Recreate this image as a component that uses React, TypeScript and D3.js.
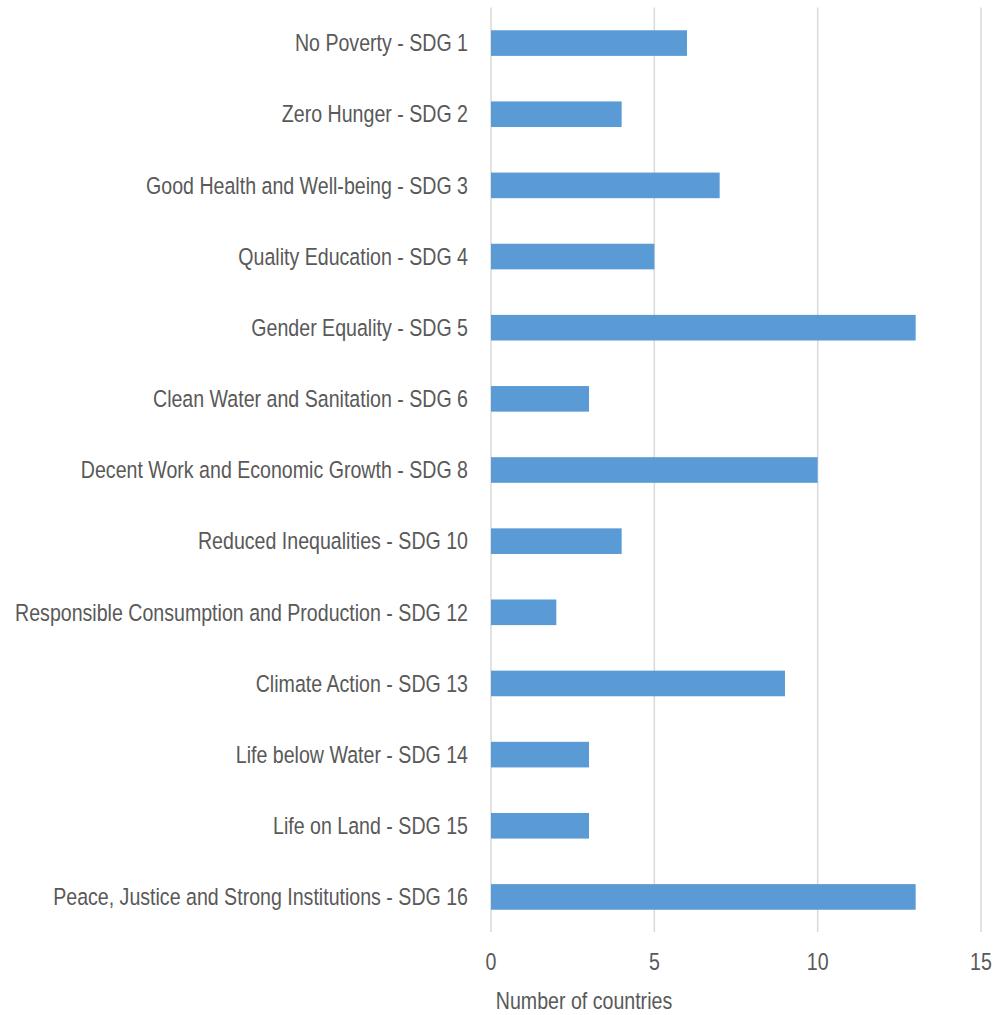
import React from "react";
import * as d3 from "d3";

const categories = [
  "No Poverty - SDG 1",
  "Zero Hunger - SDG 2",
  "Good Health and Well-being - SDG 3",
  "Quality Education - SDG 4",
  "Gender Equality - SDG 5",
  "Clean Water and Sanitation - SDG 6",
  "Decent Work and Economic Growth - SDG 8",
  "Reduced Inequalities - SDG 10",
  "Responsible Consumption and Production - SDG 12",
  "Climate Action - SDG 13",
  "Life below Water - SDG 14",
  "Life on Land - SDG 15",
  "Peace, Justice and Strong Institutions - SDG 16",
];
const values = [6, 4, 7, 5, 13, 3, 10, 4, 2, 9, 3, 3, 13];
const xTicks = [0, 5, 10, 15];
const xTitle = "Number of countries";

const W = 997;
const H = 1015;
const FONT = "'Liberation Sans', Arial, sans-serif";
const TEXT = "#595959";
const FS = 23.9;
const SX = 0.82;

function NarrowText(props: {
  x: number;
  y: number;
  anchor: "start" | "middle" | "end";
  children: React.ReactNode;
}) {
  return (
    <g transform={`translate(${props.x},${props.y}) scale(${SX},1)`}>
      <text
        x={0}
        y={0}
        textAnchor={props.anchor}
        dominantBaseline="central"
        fontSize={FS}
        fill={TEXT}
      >
        {props.children}
      </text>
    </g>
  );
}

export default function App() {
  const x = d3.scaleLinear().domain([0, 15]).range([491, 981]);
  const y = d3
    .scaleBand<string>()
    .domain(categories)
    .range([7.5, 932.5])
    .paddingInner(0.64)
    .paddingOuter(0.32);
  return (
    <svg
      width={W}
      height={H}
      style={{ position: "absolute", left: 0, top: 0, background: "#fff" }}
      fontFamily={FONT}
    >
      {xTicks.map((t) => (
        <line
          key={"g" + t}
          x1={x(t)}
          x2={x(t)}
          y1={7.5}
          y2={932}
          stroke="#d9d9d9"
          strokeWidth={1.5}
        />
      ))}
      {categories.map((c, i) => (
        <rect
          key={c}
          x={x(0)}
          y={y(c)!}
          width={x(values[i]) - x(0)}
          height={y.bandwidth()}
          fill="#5B9BD5"
        />
      ))}
      {categories.map((c) => (
        <NarrowText key={"l" + c} x={468} y={y(c)! + y.bandwidth() / 2} anchor="end">
          {c}
        </NarrowText>
      ))}
      {xTicks.map((t) => (
        <NarrowText key={"t" + t} x={x(t)} y={962} anchor="middle">
          {t}
        </NarrowText>
      ))}
      <NarrowText x={584} y={1001} anchor="middle">
        {xTitle}
      </NarrowText>
    </svg>
  );
}
